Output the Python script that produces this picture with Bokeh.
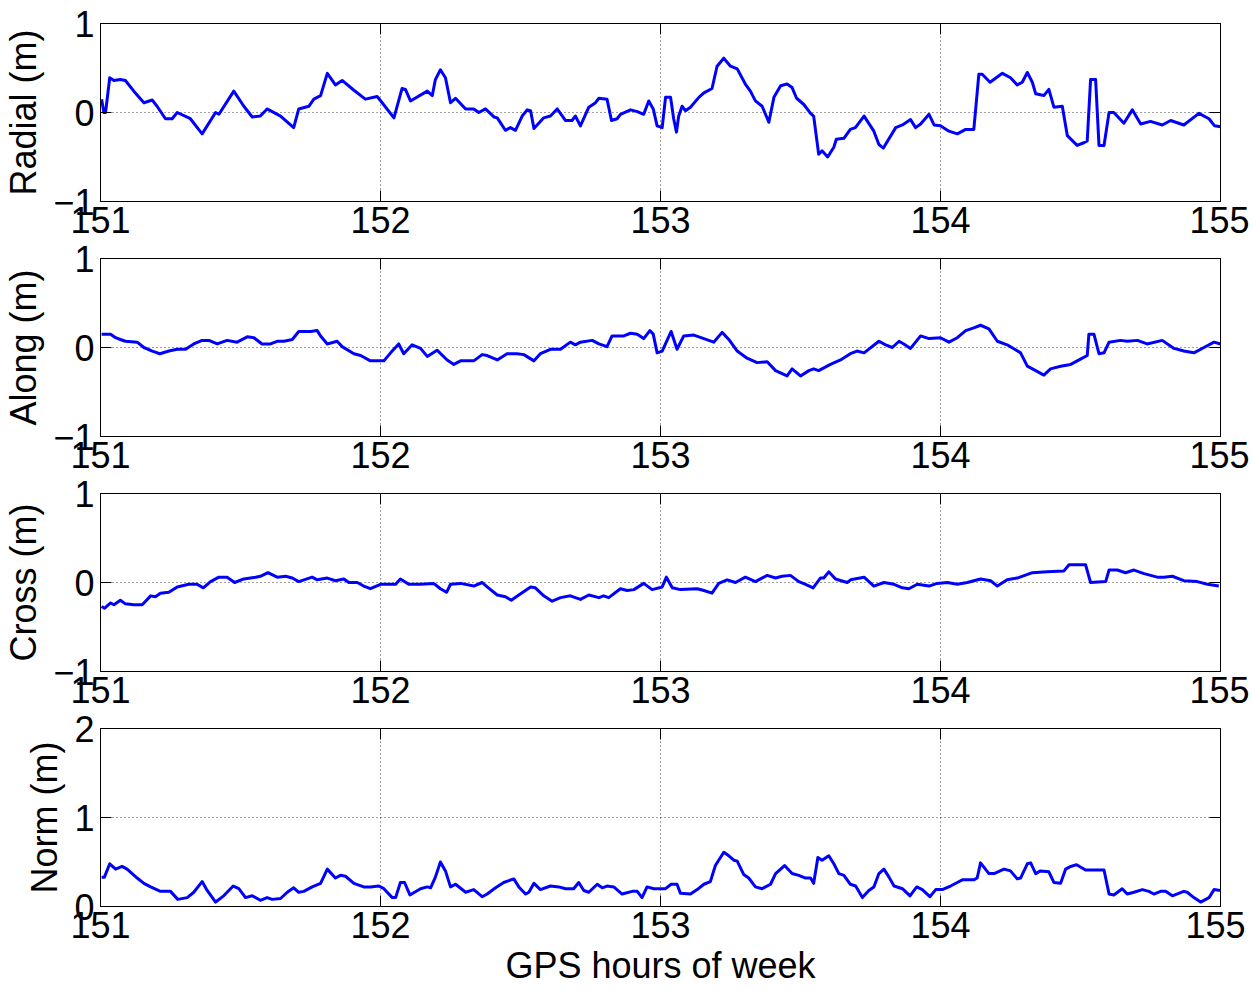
from bokeh.plotting import figure
from bokeh.layouts import column
from bokeh.models import Range1d, FixedTicker, LinearAxis
from bokeh.embed import file_html
from bokeh.resources import INLINE

# ---------------- data (GPS hours of week, metres) ----------------
radial_t = [151.004, 151.012, 151.018, 151.033, 151.048, 151.071, 151.089, 151.119, 151.155, 151.185,
            151.202, 151.232, 151.256, 151.274, 151.321, 151.363, 151.411, 151.423, 151.476, 151.512,
            151.542, 151.571, 151.595, 151.643, 151.690, 151.708, 151.744, 151.762, 151.786, 151.810,
            151.839, 151.863, 151.905, 151.946, 151.988, 152.006, 152.048, 152.077, 152.089, 152.107,
            152.167, 152.185, 152.196, 152.214, 152.232, 152.250, 152.268, 152.304, 152.333, 152.351,
            152.375, 152.405, 152.417, 152.446, 152.464, 152.482, 152.506, 152.524, 152.536, 152.548,
            152.583, 152.607, 152.631, 152.661, 152.684, 152.696, 152.714, 152.744, 152.768, 152.780,
            152.809, 152.825, 152.845, 152.857, 152.893, 152.917, 152.940, 152.958, 152.974, 152.988,
            153.006, 153.018, 153.036, 153.047, 153.057, 153.065, 153.077, 153.089, 153.107, 153.137,
            153.155, 153.184, 153.202, 153.226, 153.250, 153.274, 153.303, 153.321, 153.339, 153.363,
            153.387, 153.405, 153.429, 153.452, 153.470, 153.486, 153.512, 153.536, 153.547, 153.565,
            153.577, 153.597, 153.619, 153.628, 153.655, 153.678, 153.696, 153.727, 153.762, 153.780,
            153.796, 153.840, 153.864, 153.893, 153.911, 153.929, 153.959, 153.977, 154.000, 154.030,
            154.060, 154.090, 154.119, 154.137, 154.149, 154.177, 154.221, 154.250, 154.274, 154.292,
            154.310, 154.328, 154.340, 154.369, 154.387, 154.405, 154.435, 154.453, 154.488, 154.512,
            154.524, 154.536, 154.554, 154.566, 154.584, 154.602, 154.619, 154.655, 154.685, 154.715,
            154.750, 154.792, 154.822, 154.869, 154.923, 154.959, 154.979, 155.000]
radial_v = [0.15, 0.00, 0.00, 0.39, 0.36, 0.37, 0.36, 0.24, 0.11, 0.14,
            0.07, -0.07, -0.07, 0.00, -0.07, -0.24, 0.00, -0.02, 0.24, 0.07,
            -0.05, -0.04, 0.04, -0.04, -0.17, 0.04, 0.07, 0.15, 0.19, 0.44,
            0.31, 0.36, 0.25, 0.15, 0.18, 0.11, -0.06, 0.27, 0.26, 0.13,
            0.24, 0.19, 0.37, 0.48, 0.39, 0.11, 0.16, 0.04, 0.04, 0.00,
            0.04, -0.05, -0.06, -0.20, -0.17, -0.20, -0.04, 0.03, 0.02, -0.18,
            -0.06, -0.04, 0.04, -0.09, -0.09, -0.04, -0.15, 0.06, 0.11, 0.16,
            0.15, -0.09, -0.07, -0.02, 0.03, 0.01, -0.02, 0.13, 0.04, -0.15,
            -0.17, 0.17, 0.17, -0.07, -0.22, -0.04, 0.07, 0.02, 0.06, 0.17,
            0.22, 0.27, 0.52, 0.61, 0.52, 0.49, 0.32, 0.24, 0.13, 0.07,
            -0.11, 0.17, 0.30, 0.32, 0.28, 0.16, 0.09, -0.01, -0.04, -0.47,
            -0.43, -0.50, -0.39, -0.30, -0.29, -0.19, -0.17, -0.04, -0.21, -0.36,
            -0.40, -0.17, -0.14, -0.08, -0.17, -0.13, -0.02, -0.14, -0.15, -0.21,
            -0.24, -0.19, -0.19, 0.43, 0.43, 0.34, 0.44, 0.39, 0.31, 0.34,
            0.45, 0.34, 0.21, 0.19, 0.26, 0.06, 0.07, -0.26, -0.37, -0.34,
            -0.32, 0.37, 0.37, -0.37, -0.37, 0.00, 0.00, -0.12, 0.03, -0.13,
            -0.10, -0.14, -0.09, -0.14, -0.01, -0.07, -0.15, -0.16]

along_t = [151.004, 151.036, 151.054, 151.071, 151.089, 151.131, 151.155, 151.185, 151.212, 151.244,
           151.274, 151.304, 151.333, 151.363, 151.387, 151.417, 151.452, 151.488, 151.524, 151.548,
           151.577, 151.607, 151.631, 151.655, 151.685, 151.708, 151.750, 151.774, 151.786, 151.810,
           151.845, 151.863, 151.905, 151.929, 151.964, 152.012, 152.036, 152.065, 152.083, 152.113,
           152.143, 152.167, 152.202, 152.238, 152.262, 152.286, 152.333, 152.363, 152.381, 152.417,
           152.452, 152.488, 152.512, 152.548, 152.571, 152.607, 152.643, 152.678, 152.696, 152.714,
           152.756, 152.780, 152.809, 152.827, 152.869, 152.893, 152.917, 152.940, 152.962, 152.974,
           152.988, 153.006, 153.038, 153.059, 153.083, 153.119, 153.155, 153.190, 153.220, 153.244,
           153.274, 153.309, 153.345, 153.381, 153.411, 153.452, 153.470, 153.500, 153.530, 153.547,
           153.565, 153.607, 153.643, 153.678, 153.702, 153.727, 153.780, 153.804, 153.828, 153.852,
           153.869, 153.893, 153.929, 153.959, 154.000, 154.030, 154.060, 154.090, 154.119, 154.143,
           154.173, 154.203, 154.238, 154.286, 154.310, 154.340, 154.369, 154.393, 154.429, 154.465,
           154.500, 154.524, 154.530, 154.548, 154.566, 154.584, 154.602, 154.643, 154.667, 154.703,
           154.738, 154.792, 154.834, 154.869, 154.905, 154.941, 154.977, 155.000]
along_v = [0.15, 0.15, 0.11, 0.09, 0.07, 0.06, 0.00, -0.04, -0.07, -0.04,
           -0.02, -0.02, 0.04, 0.08, 0.08, 0.04, 0.08, 0.06, 0.12, 0.11,
           0.04, 0.04, 0.07, 0.07, 0.09, 0.18, 0.18, 0.19, 0.13, 0.04,
           0.07, 0.01, -0.07, -0.09, -0.15, -0.15, -0.06, 0.04, -0.07, 0.03,
           -0.01, -0.10, -0.03, -0.14, -0.19, -0.15, -0.15, -0.08, -0.09, -0.14,
           -0.07, -0.07, -0.08, -0.15, -0.07, -0.02, -0.02, 0.06, 0.03, 0.06,
           0.08, 0.04, 0.01, 0.13, 0.13, 0.16, 0.15, 0.10, 0.19, 0.15,
           -0.06, -0.04, 0.18, -0.02, 0.13, 0.14, 0.10, 0.06, 0.17, 0.09,
           -0.04, -0.12, -0.17, -0.16, -0.26, -0.32, -0.24, -0.32, -0.26, -0.24,
           -0.26, -0.19, -0.14, -0.07, -0.04, -0.06, 0.07, 0.03, 0.00, 0.07,
           0.04, -0.01, 0.13, 0.10, 0.11, 0.06, 0.11, 0.19, 0.22, 0.25,
           0.21, 0.07, 0.03, -0.06, -0.21, -0.26, -0.31, -0.24, -0.21, -0.19,
           -0.13, -0.09, 0.15, 0.15, -0.07, -0.06, 0.06, 0.08, 0.07, 0.08,
           0.04, 0.08, -0.01, -0.04, -0.06, 0.00, 0.06, 0.04]

cross_t = [151.004, 151.014, 151.036, 151.048, 151.071, 151.089, 151.119, 151.149, 151.161, 151.179,
           151.196, 151.214, 151.244, 151.274, 151.315, 151.345, 151.367, 151.393, 151.423, 151.452,
           151.479, 151.512, 151.554, 151.571, 151.598, 151.631, 151.661, 151.685, 151.708, 151.756,
           151.774, 151.810, 151.839, 151.869, 151.887, 151.917, 151.940, 151.964, 152.000, 152.030,
           152.054, 152.071, 152.101, 152.143, 152.190, 152.214, 152.236, 152.250, 152.286, 152.333,
           152.363, 152.381, 152.417, 152.446, 152.467, 152.494, 152.536, 152.553, 152.583, 152.613,
           152.643, 152.678, 152.714, 152.744, 152.780, 152.797, 152.815, 152.857, 152.881, 152.905,
           152.940, 152.970, 153.006, 153.021, 153.042, 153.071, 153.131, 153.155, 153.184, 153.208,
           153.238, 153.268, 153.303, 153.339, 153.381, 153.411, 153.434, 153.464, 153.494, 153.518,
           153.545, 153.571, 153.583, 153.601, 153.625, 153.667, 153.679, 153.727, 153.762, 153.798,
           153.834, 153.864, 153.887, 153.917, 153.959, 153.988, 154.024, 154.060, 154.096, 154.143,
           154.179, 154.203, 154.238, 154.274, 154.328, 154.381, 154.441, 154.459, 154.518, 154.536,
           154.590, 154.602, 154.631, 154.661, 154.691, 154.727, 154.774, 154.798, 154.828, 154.869,
           154.917, 154.953, 154.994]
cross_v = [-0.27, -0.29, -0.23, -0.25, -0.20, -0.24, -0.25, -0.25, -0.21, -0.15,
           -0.16, -0.12, -0.11, -0.05, -0.02, -0.02, -0.06, 0.01, 0.06, 0.06,
           0.00, 0.04, 0.06, 0.07, 0.11, 0.06, 0.07, 0.05, 0.01, 0.06,
           0.03, 0.05, 0.02, 0.04, 0.00, 0.00, -0.04, -0.07, -0.02, -0.02,
           -0.02, 0.04, -0.02, -0.02, -0.01, -0.07, -0.11, -0.02, -0.01, -0.04,
           0.00, -0.05, -0.14, -0.16, -0.20, -0.14, -0.05, -0.06, -0.15, -0.21,
           -0.17, -0.15, -0.19, -0.14, -0.17, -0.15, -0.17, -0.07, -0.09, -0.08,
           -0.01, -0.08, -0.05, 0.06, -0.06, -0.08, -0.07, -0.09, -0.12, -0.01,
           0.03, 0.00, 0.06, 0.01, 0.08, 0.05, 0.07, 0.08, 0.01, -0.02,
           -0.06, 0.05, 0.05, 0.12, 0.04, 0.00, 0.03, 0.06, -0.04, 0.00,
           -0.02, -0.06, -0.07, -0.02, -0.04, -0.01, 0.00, -0.02, 0.00, 0.04,
           0.02, -0.04, 0.03, 0.05, 0.11, 0.12, 0.13, 0.20, 0.20, 0.00,
           0.01, 0.14, 0.14, 0.11, 0.14, 0.10, 0.06, 0.06, 0.07, 0.02,
           0.01, -0.02, -0.04]

norm_t = [151.004, 151.014, 151.033, 151.054, 151.077, 151.095, 151.131, 151.155, 151.179, 151.214,
          151.250, 151.276, 151.310, 151.333, 151.363, 151.381, 151.411, 151.440, 151.474, 151.494,
          151.518, 151.542, 151.571, 151.595, 151.613, 151.643, 151.667, 151.690, 151.708, 151.726,
          151.756, 151.786, 151.810, 151.839, 151.857, 151.875, 151.905, 151.940, 151.964, 151.994,
          152.012, 152.042, 152.054, 152.071, 152.086, 152.105, 152.143, 152.167, 152.179, 152.196,
          152.214, 152.232, 152.250, 152.268, 152.304, 152.333, 152.363, 152.381, 152.411, 152.440,
          152.476, 152.494, 152.518, 152.530, 152.548, 152.571, 152.607, 152.637, 152.661, 152.690,
          152.708, 152.726, 152.744, 152.774, 152.792, 152.809, 152.833, 152.863, 152.899, 152.917,
          152.934, 152.952, 152.976, 153.018, 153.038, 153.059, 153.071, 153.107, 153.131, 153.155,
          153.178, 153.196, 153.226, 153.244, 153.262, 153.274, 153.297, 153.315, 153.339, 153.363,
          153.393, 153.411, 153.443, 153.470, 153.494, 153.518, 153.536, 153.547, 153.562, 153.577,
          153.601, 153.619, 153.637, 153.655, 153.678, 153.697, 153.721, 153.744, 153.762, 153.780,
          153.798, 153.816, 153.834, 153.864, 153.891, 153.915, 153.935, 153.962, 153.983, 154.006,
          154.036, 154.060, 154.078, 154.119, 154.131, 154.143, 154.173, 154.191, 154.227, 154.250,
          154.274, 154.286, 154.310, 154.322, 154.340, 154.357, 154.387, 154.405, 154.429, 154.447,
          154.465, 154.486, 154.518, 154.584, 154.602, 154.619, 154.649, 154.667, 154.691, 154.721,
          154.744, 154.762, 154.786, 154.804, 154.828, 154.869, 154.881, 154.905, 154.929, 154.959,
          154.977, 154.998]
norm_v = [0.33, 0.33, 0.48, 0.42, 0.45, 0.42, 0.32, 0.26, 0.22, 0.17,
          0.17, 0.08, 0.10, 0.16, 0.28, 0.18, 0.05, 0.12, 0.23, 0.20,
          0.10, 0.12, 0.07, 0.10, 0.08, 0.09, 0.16, 0.21, 0.16, 0.17,
          0.22, 0.26, 0.42, 0.32, 0.35, 0.34, 0.26, 0.22, 0.22, 0.23,
          0.20, 0.10, 0.10, 0.27, 0.27, 0.13, 0.20, 0.22, 0.21, 0.33,
          0.50, 0.40, 0.22, 0.25, 0.16, 0.19, 0.11, 0.14, 0.21, 0.27,
          0.31, 0.22, 0.14, 0.16, 0.26, 0.19, 0.23, 0.22, 0.20, 0.20,
          0.27, 0.18, 0.16, 0.25, 0.21, 0.23, 0.22, 0.14, 0.17, 0.17,
          0.10, 0.22, 0.20, 0.20, 0.25, 0.25, 0.15, 0.14, 0.19, 0.25,
          0.28, 0.46, 0.61, 0.57, 0.52, 0.51, 0.36, 0.32, 0.22, 0.20,
          0.25, 0.37, 0.46, 0.37, 0.35, 0.32, 0.32, 0.26, 0.55, 0.52,
          0.57, 0.48, 0.37, 0.35, 0.25, 0.23, 0.10, 0.18, 0.22, 0.37,
          0.42, 0.33, 0.23, 0.20, 0.12, 0.22, 0.19, 0.11, 0.19, 0.19,
          0.23, 0.27, 0.30, 0.30, 0.32, 0.49, 0.37, 0.37, 0.42, 0.40,
          0.31, 0.32, 0.48, 0.49, 0.37, 0.40, 0.39, 0.27, 0.26, 0.42,
          0.45, 0.47, 0.41, 0.41, 0.14, 0.13, 0.20, 0.14, 0.16, 0.19,
          0.17, 0.14, 0.17, 0.17, 0.12, 0.17, 0.16, 0.10, 0.05, 0.10,
          0.19, 0.18]

x_ticks = [151, 152, 153, 154, 155]
x_range = (151, 155)
dev_ticks = [-1, 0, 1]
dev_labels = {-1: "\u22121", 0: "0", 1: "1"}
norm_ticks = [0, 1, 2]
norm_labels = {0: "0", 1: "1", 2: "2"}
x_title = "GPS hours of week"

FONT = "Liberation Sans"
FS = "36px"


def style_axis(ax, show_labels=True):
    ax.axis_line_color = "black"
    ax.axis_line_width = 1
    ax.major_tick_line_color = "black"
    ax.major_tick_in = 11
    ax.major_tick_out = 0
    ax.minor_tick_line_color = None
    ax.major_label_text_font = FONT
    if show_labels:
        ax.major_label_text_font_size = FS
        ax.major_label_text_color = "black"
    else:
        ax.major_label_text_font_size = "1px"
        ax.major_label_text_color = None
        ax.major_label_standoff = 0


def make_panel(t, v, ylabel, yr, yticks, ylabels, top, bottom, xstandoff=5, xlabel=None):
    p = figure(frame_width=1120, frame_height=178,
               x_range=Range1d(*x_range), y_range=Range1d(*yr),
               output_backend="svg", toolbar_location=None,
               min_border_left=96, min_border_right=29,
               min_border_top=top, min_border_bottom=bottom,
               background_fill_color="white", border_fill_color="white")
    p.outline_line_color = "black"
    p.outline_line_width = 1
    xt = FixedTicker(ticks=x_ticks)
    yt = FixedTicker(ticks=yticks)
    p.xaxis.ticker = xt
    p.yaxis.ticker = yt
    p.yaxis.major_label_overrides = ylabels
    for ax in p.xaxis:
        style_axis(ax)
        ax.major_label_standoff = xstandoff
    for ax in p.yaxis:
        style_axis(ax)
        ax.major_label_standoff = 6
        ax.axis_label = ylabel
        ax.axis_label_text_font = FONT
        ax.axis_label_text_font_size = FS
        ax.axis_label_text_font_style = "normal"
        ax.axis_label_text_color = "black"
        ax.axis_label_standoff = 6
    if xlabel:
        for ax in p.xaxis:
            ax.axis_label = xlabel
            ax.axis_label_text_font = FONT
            ax.axis_label_text_font_size = FS
            ax.axis_label_text_font_style = "normal"
            ax.axis_label_text_color = "black"
            ax.axis_label_standoff = 4
    top_ax = LinearAxis(ticker=FixedTicker(ticks=x_ticks))
    style_axis(top_ax, show_labels=False)
    p.add_layout(top_ax, "above")
    right_ax = LinearAxis(ticker=FixedTicker(ticks=yticks))
    style_axis(right_ax, show_labels=False)
    p.add_layout(right_ax, "right")

    p.xgrid.ticker = xt
    p.ygrid.ticker = yt
    for g in (p.xgrid, p.ygrid):
        g.grid_line_color = "black"
        g.grid_line_alpha = 0.75
        g.grid_line_width = 1
        g.grid_line_dash = "1 3"

    p.line(t, v, line_color="#0000ff", line_width=3, line_join="round")
    return p


p1 = make_panel(radial_t, radial_v, "Radial (m)", (-1, 1), dev_ticks, dev_labels, 23, 39)
p2 = make_panel(along_t, along_v, "Along (m)", (-1, 1), dev_ticks, dev_labels, 18, 39)
p3 = make_panel(cross_t, cross_v, "Cross (m)", (-1, 1), dev_ticks, dev_labels, 18, 39)
p4 = make_panel(norm_t, norm_v, "Norm (m)", (0, 2), norm_ticks, norm_labels, 18, 40,
                xstandoff=5, xlabel=x_title)

layout = column(p1, p2, p3, p4, spacing=0)
open("out.html", "w").write(file_html(layout, INLINE))
